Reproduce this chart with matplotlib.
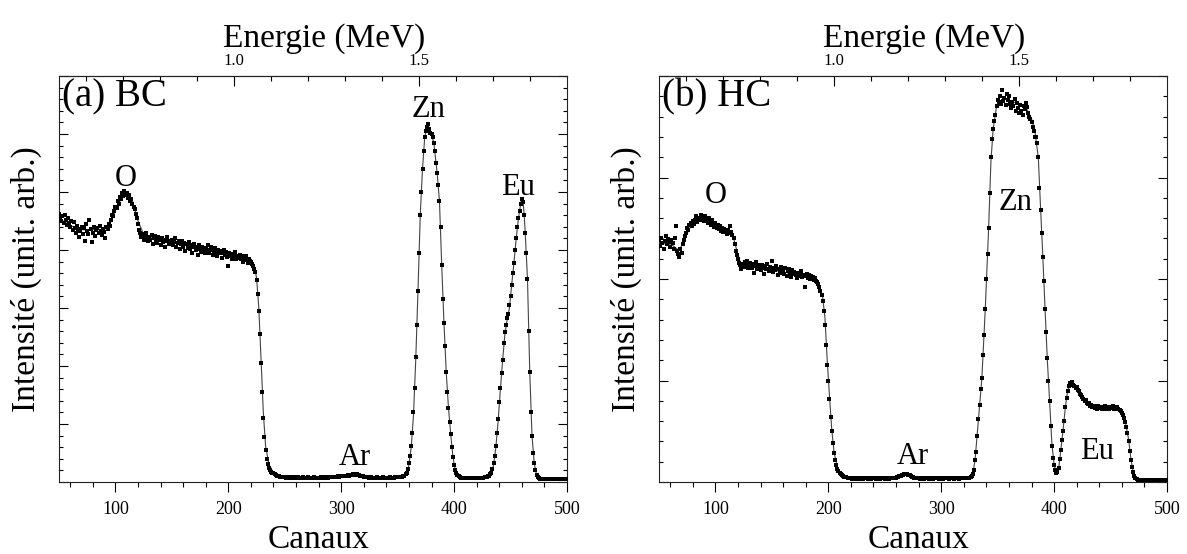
import matplotlib
matplotlib.use('Agg')
import matplotlib.pyplot as plt
from matplotlib.ticker import MultipleLocator, FixedLocator, FormatStrFormatter
import numpy as np

plt.rcParams['font.family'] = 'Liberation Serif'

# channels 50..500, one point per channel
channels = np.arange(50, 501)

# (a) BC - measured spectrum (arb. units)
bc_counts = [
    4.62, 4.55, 4.50, 4.58, 4.47, 4.60, 4.52, 4.43, 4.55, 4.46,
    4.40, 4.50, 4.35, 4.48, 4.38, 4.30, 4.42, 4.36, 4.22, 4.33,
    4.40, 4.28, 4.38, 4.15, 4.45, 4.32, 4.27, 4.52, 4.36, 4.14,
    4.30, 4.40, 4.25, 4.35, 4.38, 4.29, 4.42, 4.33, 4.26, 4.37,
    4.31, 4.20, 4.40, 4.36, 4.45, 4.42, 4.52, 4.60, 4.58, 4.68,
    4.75, 4.72, 4.85, 4.80, 4.92, 4.88, 4.98, 4.93, 5.02, 4.95,
    4.99, 4.90, 4.94, 4.85, 4.88, 4.80, 4.75, 4.70, 4.62, 4.55,
    4.45, 4.35, 4.30, 4.22, 4.28, 4.18, 4.25, 4.30, 4.20, 4.15,
    4.22, 4.18, 4.26, 4.10, 4.20, 4.24, 4.15, 4.12, 4.22, 4.17,
    4.08, 4.20, 4.14, 4.18, 4.05, 4.15, 4.22, 4.10, 4.16, 4.12,
    4.18, 4.08, 4.14, 4.20, 4.05, 4.12, 4.16, 4.02, 4.10, 4.15,
    4.06, 4.12, 3.98, 4.10, 4.04, 4.14, 4.02, 4.08, 3.95, 4.06,
    4.10, 4.00, 4.05, 3.92, 4.08, 4.02, 3.97, 4.06, 4.00, 3.94,
    4.04, 3.98, 4.08, 3.95, 4.00, 4.05, 3.92, 3.99, 4.03, 3.96,
    3.90, 4.00, 3.94, 3.98, 3.86, 3.95, 4.00, 3.91, 3.96, 3.88,
    3.72, 3.95, 3.90, 3.85, 3.93, 3.88, 3.96, 3.84, 3.90, 3.86,
    3.92, 3.84, 3.89, 3.80, 3.87, 3.83, 3.90, 3.78, 3.85, 3.81,
    3.80, 3.76, 3.72, 3.68, 3.62, 3.48, 3.25, 2.95, 2.55, 2.05,
    1.55, 1.10, 0.78, 0.55, 0.40, 0.31, 0.25, 0.21, 0.18, 0.16,
    0.15, 0.13, 0.12, 0.11, 0.10, 0.10, 0.09, 0.09, 0.08, 0.08,
    0.08, 0.07, 0.08, 0.07, 0.07, 0.08, 0.07, 0.07, 0.08, 0.07,
    0.07, 0.07, 0.08, 0.07, 0.07, 0.07, 0.08, 0.07, 0.07, 0.07,
    0.07, 0.08, 0.07, 0.07, 0.07, 0.07, 0.08, 0.07, 0.07, 0.07,
    0.07, 0.07, 0.08, 0.07, 0.07, 0.07, 0.08, 0.08, 0.07, 0.08,
    0.08, 0.08, 0.09, 0.08, 0.09, 0.09, 0.09, 0.10, 0.09, 0.10,
    0.10, 0.10, 0.11, 0.10, 0.11, 0.11, 0.12, 0.11, 0.12, 0.12,
    0.13, 0.12, 0.13, 0.14, 0.13, 0.12, 0.12, 0.11, 0.10, 0.10,
    0.09, 0.09, 0.08, 0.08, 0.08, 0.07, 0.08, 0.07, 0.07, 0.07,
    0.07, 0.07, 0.08, 0.07, 0.07, 0.07, 0.07, 0.08, 0.07, 0.07,
    0.07, 0.07, 0.07, 0.08, 0.07, 0.07, 0.07, 0.07, 0.08, 0.08,
    0.08, 0.08, 0.08, 0.09, 0.09, 0.10, 0.11, 0.13, 0.16, 0.22,
    0.32, 0.45, 0.62, 0.85, 1.20, 1.62, 2.15, 2.70, 3.30, 3.95,
    4.60, 5.00, 5.40, 5.70, 5.95, 6.05, 6.12, 6.17, 6.08, 6.02,
    6.00, 5.95, 5.84, 5.70, 5.50, 5.32, 5.12, 4.85, 4.40, 3.75,
    3.15, 2.75, 2.35, 1.90, 1.55, 1.28, 1.04, 0.82, 0.60, 0.43,
    0.30, 0.21, 0.15, 0.12, 0.10, 0.08, 0.07, 0.07, 0.07, 0.07,
    0.07, 0.07, 0.07, 0.07, 0.07, 0.07, 0.07, 0.07, 0.07, 0.07,
    0.07, 0.07, 0.07, 0.07, 0.07, 0.07, 0.07, 0.08, 0.08, 0.09,
    0.10, 0.11, 0.13, 0.16, 0.22, 0.32, 0.45, 0.62, 0.84, 1.08,
    1.38, 1.62, 1.88, 2.10, 2.40, 2.58, 2.70, 2.82, 2.90, 3.05,
    3.20, 3.40, 3.60, 3.78, 4.00, 4.20, 4.40, 4.55, 4.68, 4.80,
    4.88, 4.82, 4.60, 4.30, 3.95, 3.50, 2.60, 1.90, 1.20, 0.80,
    0.50, 0.32, 0.20, 0.12, 0.09, 0.07, 0.06, 0.06, 0.06, 0.06,
    0.06, 0.06, 0.06, 0.06, 0.06, 0.06, 0.06, 0.06, 0.06, 0.06,
    0.06, 0.06, 0.06, 0.06, 0.06, 0.06, 0.06, 0.06, 0.06, 0.06,
    0.06,
]

# (b) HC - measured spectrum
hc_counts = [
    2.38, 2.33, 2.40, 2.35, 2.30, 2.37, 2.42, 2.34, 2.39, 2.36,
    2.32, 2.38, 2.35, 2.30, 2.40, 2.52, 2.28, 2.25, 2.22, 2.30,
    2.26, 2.34, 2.38, 2.42, 2.45, 2.50, 2.48, 2.53, 2.55, 2.52,
    2.57, 2.54, 2.58, 2.62, 2.56, 2.60, 2.58, 2.63, 2.59, 2.61,
    2.57, 2.62, 2.58, 2.55, 2.60, 2.56, 2.53, 2.58, 2.54, 2.51,
    2.55, 2.50, 2.53, 2.49, 2.52, 2.47, 2.50, 2.46, 2.49, 2.47,
    2.44, 2.48, 2.45, 2.52, 2.46, 2.43, 2.40, 2.34, 2.28, 2.24,
    2.20, 2.16, 2.14, 2.10, 2.15, 2.12, 2.17, 2.13, 2.18, 2.11,
    2.14, 2.16, 2.11, 2.15, 2.06, 2.13, 2.17, 2.10, 2.14, 2.12,
    2.09, 2.14, 2.11, 2.05, 2.13, 2.10, 2.15, 2.08, 2.12, 2.10,
    2.18, 2.07, 2.11, 2.09, 2.13, 2.04, 2.10, 2.08, 2.12, 2.06,
    2.09, 2.05, 2.11, 2.03, 2.08, 2.10, 2.06, 2.02, 2.09, 2.05,
    2.07, 2.04, 2.01, 2.06, 2.03, 2.05, 2.08, 2.02, 2.04, 1.92,
    2.03, 2.05, 2.01, 2.04, 2.00, 2.03, 2.02, 1.99, 2.01, 1.98,
    1.97, 1.95, 1.92, 1.88, 1.84, 1.78, 1.68, 1.55, 1.35, 1.15,
    1.00, 0.82, 0.64, 0.50, 0.38, 0.29, 0.22, 0.17, 0.13, 0.11,
    0.09, 0.08, 0.07, 0.06, 0.05, 0.05, 0.05, 0.04, 0.04, 0.04,
    0.04, 0.03, 0.04, 0.04, 0.03, 0.04, 0.04, 0.03, 0.04, 0.04,
    0.04, 0.03, 0.04, 0.04, 0.04, 0.03, 0.04, 0.04, 0.03, 0.04,
    0.04, 0.04, 0.03, 0.04, 0.04, 0.04, 0.03, 0.04, 0.04, 0.04,
    0.03, 0.04, 0.04, 0.04, 0.03, 0.04, 0.04, 0.04, 0.04, 0.04,
    0.04, 0.05, 0.05, 0.06, 0.06, 0.07, 0.07, 0.08, 0.08, 0.08,
    0.08, 0.07, 0.07, 0.06, 0.05, 0.05, 0.04, 0.04, 0.04, 0.04,
    0.04, 0.03, 0.04, 0.04, 0.04, 0.03, 0.04, 0.04, 0.04, 0.03,
    0.04, 0.04, 0.04, 0.03, 0.04, 0.04, 0.04, 0.04, 0.03, 0.04,
    0.04, 0.04, 0.03, 0.04, 0.04, 0.04, 0.04, 0.03, 0.04, 0.04,
    0.04, 0.03, 0.04, 0.04, 0.04, 0.04, 0.03, 0.04, 0.04, 0.04,
    0.04, 0.04, 0.04, 0.04, 0.04, 0.04, 0.05, 0.06, 0.08, 0.12,
    0.22, 0.30, 0.45, 0.62, 0.76, 0.92, 1.02, 1.25, 1.45, 1.70,
    2.00, 2.25, 2.50, 2.85, 3.20, 3.38, 3.48, 3.56, 3.62, 3.70,
    3.76, 3.74, 3.80, 3.72, 3.86, 3.75, 3.78, 3.71, 3.82, 3.76,
    3.80, 3.72, 3.68, 3.74, 3.70, 3.77, 3.66, 3.73, 3.68, 3.64,
    3.71, 3.66, 3.62, 3.70, 3.67, 3.73, 3.69, 3.64, 3.60, 3.58,
    3.55, 3.50, 3.46, 3.40, 3.40, 3.34, 3.20, 2.90, 2.68, 2.45,
    2.22, 1.98, 1.70, 1.48, 1.22, 1.00, 0.80, 0.55, 0.35, 0.24,
    0.17, 0.12, 0.09, 0.10, 0.14, 0.23, 0.32, 0.41, 0.50, 0.60,
    0.74, 0.83, 0.90, 0.95, 0.98, 0.97, 0.99, 0.96, 0.95, 0.93,
    0.94, 0.91, 0.90, 0.87, 0.86, 0.84, 0.82, 0.80, 0.81, 0.78,
    0.77, 0.78, 0.75, 0.76, 0.74, 0.75, 0.73, 0.74, 0.72, 0.75,
    0.73, 0.74, 0.72, 0.74, 0.73, 0.75, 0.72, 0.73, 0.74, 0.72,
    0.74, 0.73, 0.75, 0.72, 0.74, 0.73, 0.74, 0.72, 0.71, 0.70,
    0.68, 0.66, 0.63, 0.59, 0.54, 0.48, 0.40, 0.31, 0.22, 0.15,
    0.10, 0.06, 0.04, 0.03, 0.02, 0.02, 0.02, 0.02, 0.02, 0.02,
    0.02, 0.02, 0.02, 0.02, 0.02, 0.02, 0.02, 0.02, 0.02, 0.02,
    0.02, 0.02, 0.02, 0.02, 0.02, 0.02, 0.02, 0.02, 0.02, 0.02,
    0.02,
]

# simulated curves (knots)
bc_fit_ch = [50, 60, 70, 90, 95, 100, 105, 110, 115, 120, 125, 135, 150, 180,
             210, 220, 223, 225, 227, 229, 231, 233, 236, 240, 250, 300, 305,
             310, 313, 318, 325, 355, 358, 360, 362, 364, 366, 368, 370, 372,
             374, 376, 377, 379, 382, 385, 387, 389, 391, 393, 395, 397, 399,
             401, 403, 406, 430, 433, 435, 437, 439, 441, 443, 445, 447, 449,
             451, 453, 455, 457, 459, 460, 461, 462, 463, 465, 467, 469, 471,
             473, 476, 500]
bc_fit = [4.55, 4.42, 4.35, 4.35, 4.45, 4.68, 4.88, 4.96, 4.85, 4.50, 4.27,
          4.20, 4.13, 4.00, 3.88, 3.82, 3.72, 3.52, 3.00, 2.10, 1.20, 0.62,
          0.30, 0.16, 0.08, 0.08, 0.10, 0.12, 0.13, 0.11, 0.08, 0.08, 0.12,
          0.30, 0.60, 1.15, 2.10, 3.30, 4.60, 5.40, 5.95, 6.12, 6.15, 6.05,
          5.85, 5.32, 4.85, 3.75, 2.75, 1.90, 1.28, 0.82, 0.43, 0.21, 0.12,
          0.07, 0.07, 0.13, 0.30, 0.60, 1.05, 1.60, 2.10, 2.55, 2.80, 3.00,
          3.40, 3.78, 4.20, 4.55, 4.80, 4.88, 4.86, 4.62, 4.30, 3.50, 1.90,
          0.80, 0.32, 0.12, 0.06, 0.06]

hc_fit_ch = [50, 62, 68, 72, 78, 88, 100, 115, 118, 122, 130, 160, 185, 192,
             195, 197, 199, 201, 203, 205, 208, 212, 220, 260, 266, 269, 274,
             280, 325, 328, 330, 333, 336, 339, 342, 344, 346, 349, 355, 365,
             375, 380, 383, 386, 388, 390, 392, 394, 396, 398, 400, 402, 404,
             406, 408, 410, 412, 415, 418, 422, 428, 435, 455, 460, 463, 466,
             468, 470, 473, 500]
hc_fit = [2.36, 2.33, 2.28, 2.38, 2.52, 2.59, 2.53, 2.45, 2.32, 2.16, 2.13,
          2.07, 2.01, 1.95, 1.82, 1.62, 1.20, 0.85, 0.52, 0.30, 0.14, 0.07,
          0.04, 0.04, 0.07, 0.08, 0.05, 0.04, 0.04, 0.08, 0.22, 0.62, 1.02,
          1.70, 2.50, 3.15, 3.48, 3.70, 3.78, 3.74, 3.69, 3.58, 3.45, 3.20,
          2.70, 2.22, 1.70, 1.20, 0.80, 0.38, 0.17, 0.09, 0.13, 0.32, 0.52,
          0.74, 0.90, 0.98, 0.96, 0.90, 0.81, 0.75, 0.73, 0.69, 0.60, 0.42,
          0.23, 0.10, 0.03, 0.02]

bc_peaks = ['O', 'Ar', 'Zn', 'Eu']
bc_peak_ch = [109, 312, 377, 457]
bc_peak_y = [5.10, 0.29, 6.30, 4.95]

hc_peaks = ['O', 'Ar', 'Zn', 'Eu']
hc_peak_ch = [100, 275, 366, 438]
hc_peak_y = [2.75, 0.18, 2.68, 0.23]

# energy scale of the top axis
energy_major = [1.0, 1.5]
energy_minor = [0.6, 0.7, 0.8, 0.9, 1.1, 1.2, 1.3, 1.4, 1.6, 1.7, 1.8]


def ch_to_mev(ch):
    return 1.0 + (np.asarray(ch, dtype=float) - 205.0) / 328.0


def mev_to_ch(e):
    return 205.0 + (np.asarray(e, dtype=float) - 1.0) * 328.0


def spectrum(ax, counts, fit_ch, fit, ymax, title, names, pk_ch, pk_y):
    ax.plot(fit_ch, fit, '-', color='#444444', lw=0.8, zorder=2)
    ax.plot(channels, counts, 's', color='black', ms=2.7, mew=0, zorder=3)
    ax.set_xlim(50, 500)
    ax.set_ylim(0, ymax)

    ax.xaxis.set_major_locator(MultipleLocator(100))
    ax.xaxis.set_minor_locator(MultipleLocator(20))
    ax.yaxis.set_major_locator(MultipleLocator(1))
    ax.yaxis.set_minor_locator(MultipleLocator(0.2))
    ax.tick_params(axis='x', which='both', direction='out', top=False,
                   labelsize=13, pad=7, width=0.8)
    ax.tick_params(axis='x', which='major', length=7)
    ax.tick_params(axis='x', which='minor', length=3.6)
    ax.tick_params(axis='y', which='both', direction='in', left=True,
                   right=True, labelleft=False, width=0.8)
    ax.tick_params(axis='y', which='major', length=6.5)
    ax.tick_params(axis='y', which='minor', length=3.2)
    for s in ax.spines.values():
        s.set_linewidth(0.8)
        s.set_color('#222222')

    secax = ax.secondary_xaxis('top', functions=(ch_to_mev, mev_to_ch))
    secax.xaxis.set_major_locator(FixedLocator(energy_major))
    secax.xaxis.set_minor_locator(FixedLocator(energy_minor))
    secax.xaxis.set_major_formatter(FormatStrFormatter('%.1f'))
    secax.tick_params(which='both', direction='in', labelsize=12, pad=5,
                      width=0.8)
    secax.tick_params(which='major', length=7)
    secax.tick_params(which='minor', length=3.6)
    secax.spines['top'].set_linewidth(0.8)

    ax.text(0.522, 1.0714, 'Energie (MeV)', transform=ax.transAxes,
            ha='center', va='baseline', fontsize=24)
    ax.text(0.51, -0.163, 'Canaux', transform=ax.transAxes,
            ha='center', va='baseline', fontsize=24)
    ax.set_ylabel('Intensité (unit. arb.)', fontsize=24, labelpad=12)

    ax.text(0.006, 0.924, title, transform=ax.transAxes, ha='left',
            va='baseline', fontsize=28)
    for n, c, y in zip(names, pk_ch, pk_y):
        ax.text(c, y, n, ha='center', va='baseline', fontsize=22)


fig = plt.figure(figsize=(11.87, 5.54), dpi=100)
ax1 = fig.add_axes([59 / 1187, 72 / 554, 508 / 1187, 406 / 554])
ax2 = fig.add_axes([659 / 1187, 72 / 554, 508 / 1187, 406 / 554])

spectrum(ax1, bc_counts, bc_fit_ch, bc_fit, 7, '(a) BC',
         bc_peaks, bc_peak_ch, bc_peak_y)
spectrum(ax2, hc_counts, hc_fit_ch, hc_fit, 4, '(b) HC',
         hc_peaks, hc_peak_ch, hc_peak_y)

fig.savefig('out.png', dpi=100)
